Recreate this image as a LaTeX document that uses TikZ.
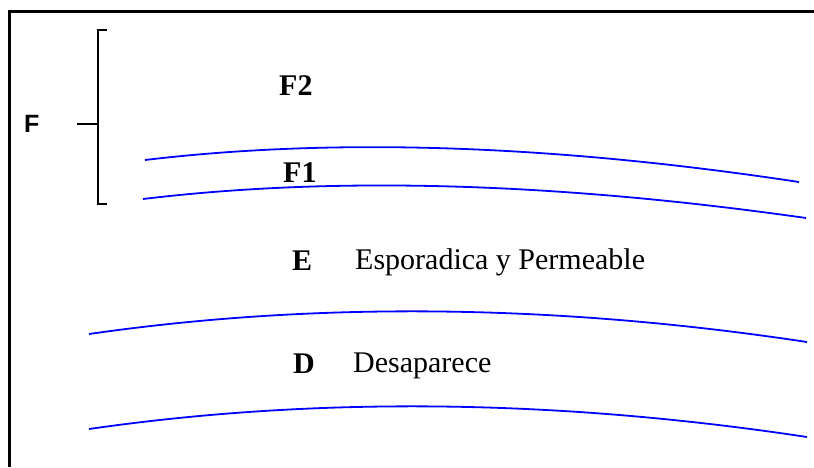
\documentclass[tikz,border=0pt]{standalone}
\usepackage{fontspec}
\setmainfont{Liberation Serif}
\newfontfamily\labelsans{Liberation Sans}
\tikzset{
    layer/.style={blue,line width=1.8pt},
    layername/.style={inner sep=0pt,anchor=base west,font=\fontsize{30}{36}\selectfont\bfseries},
    layernote/.style={inner sep=0pt,anchor=base west,font=\fontsize{30}{36}\selectfont}
}
\begin{document}
\begin{tikzpicture}[x=1pt,y=-1pt]
    \useasboundingbox (0,0) rectangle (814,467);
    % frame (top and left edge only)
    \draw[line width=3pt] (9,467) -- (9,11) -- (814,11);
    % layer boundaries
    \draw[layer] (145,160) .. controls (335,137.3) and (553,144.7) .. (799,182);
    \draw[layer] (143,199) .. controls (334,176) and (555,182.3) .. (806,218);
    \draw[layer] (89,334) .. controls (316,301.3) and (556,304) .. (807,342);
    \draw[layer] (89,429) .. controls (316,396.3) and (556,399) .. (807,437);
    % bracket for F
    \coordinate (ftop) at (98,30);
    \coordinate (fbot) at (98,204);
    \coordinate (fmid) at (98,124);
    \draw[line width=1.5pt] ([xshift=9pt]ftop) -- (ftop) -- (fbot) -- ([xshift=9pt]fbot);
    \draw[line width=1.5pt] (fmid) -- ++(-21,0);
    \node[inner sep=0pt,anchor=base west,font=\fontsize{25}{30}\labelsans\bfseries] (f) at (24,132) {F};
    % layer names
    \node[layername] (ftwo) at (279,95) {F2};
    \node[layername] (fone) at (283,182) {F1};
    \node[layername] (e) at (292,270) {E};
    \node[layernote] (enote) at (355,269) {Esporadica y Permeable};
    \node[layername] (d) at (293,373) {D};
    \node[layernote] (dnote) at (353,372) {Desaparece};
\end{tikzpicture}
\end{document}
